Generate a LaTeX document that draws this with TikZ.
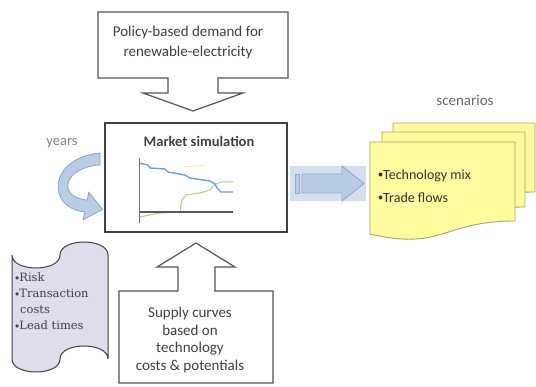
\documentclass[tikz,border=0pt]{standalone}
\usepackage{fontspec}
\setmainfont{Carlito}
\newfontfamily\serifbox{DejaVu Serif}
\definecolor{boxline}{HTML}{555555}
\definecolor{txt}{HTML}{404040}
\definecolor{yearsfill}{HTML}{B9CDE5}
\definecolor{yearsline}{HTML}{8AA5C8}
\definecolor{tapefill}{HTML}{E0DCEC}
\definecolor{docfill}{HTML}{FFFB9E}
\definecolor{docline}{HTML}{A8A462}
\definecolor{arrbg}{HTML}{D3E0F0}
\definecolor{arrfill}{HTML}{B8CCE4}
\definecolor{arrline}{HTML}{8EA9CD}
\definecolor{cblue}{HTML}{6D9ED6}
\definecolor{cgreen}{HTML}{A9D18E}
\definecolor{cyellow}{HTML}{FFE699}
\newcommand{\bul}{\raisebox{0.3ex}{\scalebox{0.7}{$\bullet$}}}
\tikzset{
  outline/.style={draw=boxline, line width=1.2pt, fill=white, line join=miter},
  label15/.style={text=txt, font=\fontsize{15}{20}\selectfont, align=center, inner sep=0pt},
  docpage/.style={draw=docline, line width=0.9pt, fill=docfill},
}
\begin{document}
\begin{tikzpicture}[x=1pt,y=-1pt]
\useasboundingbox (0,0) rectangle (536,387);
% top callout
\draw[outline] (98,12) -- (288,12) -- (288,78) -- (218,78) -- (218,93) -- (243,93) -- (193,111) -- (143,93) -- (168,93) -- (168,78) -- (98,78) -- cycle;
\node[label15] (policy) at (188,43) {Policy-based demand for\\renewable-electricity};
% bottom callout
\draw[outline] (119,383) -- (119,291) -- (178,291) -- (178,267) -- (157,267) -- (196,243) -- (235,267) -- (215,267) -- (215,291) -- (273,291) -- (273,383) -- cycle;
\node[label15, font=\fontsize{15}{17.7}\selectfont] (supply) at (190,340) {Supply curves\\based on\\technology\\costs \& potentials};
% market simulation box
\draw[outline, draw=black!75] (105,123) rectangle (287,232);
\node[label15, font=\bfseries\fontsize{14.5}{18}\selectfont] (market) at (199,141) {Market simulation};
% chart
\draw[cyellow, line width=0.8pt] (183,167) -- (206,165);
\draw[cgreen, line width=1pt] (139,217) -- (160,213) -- (180,212) -- (182,200) -- (186,195) -- (200,193) -- (210,190) -- (215,184) -- (222,182) -- (233,182);
\draw[cblue, line width=1.4pt] (139,163) -- (148,165) -- (150,168) -- (165,169) -- (168,172) -- (185,175) -- (190,178) -- (210,181) -- (215,184) -- (217,188) -- (221,192) -- (233,192);
\draw[black!65, line width=1.3pt] (139,212) -- (233,212);
\draw[black!55, line width=1pt] (139,158) -- (139,223);
% years arrow
\node[text=black!50, font=\fontsize{14.5}{17}\selectfont, inner sep=0pt] (years) at (62,143) {years};
\draw[fill=yearsfill, draw=yearsline, line width=0.8pt, line join=miter]
  (100,153) -- (100,165) .. controls (64,167) and (56,197) .. (87.2,200.1)
  -- (88.8,192.3) -- (102.7,209.4) -- (83.2,219.7) -- (84.8,211.9)
  .. controls (46,208) and (48,158) .. (100,153) -- cycle;
% punched tape
\draw[fill=tapefill, draw=black!75, line width=1pt]
  (12,255) .. controls (12,272.3) and (60,272.3) .. (60,255)
  .. controls (60,237.7) and (108,237.7) .. (108,255) -- (108,359)
  .. controls (108,341.7) and (60,341.7) .. (60,359)
  .. controls (60,376.3) and (12,376.3) .. (12,359) -- cycle;
\node[text=txt, font=\serifbox\fontsize{11.5}{16}\selectfont, align=left, anchor=north west, inner sep=0pt] (risks) at (15,273)
  {\bul Risk\\\bul Transaction\\\hspace{5pt}costs\\\bul Lead times};
% right arrow
\fill[arrbg] (290,166) rectangle (366,201);
\draw[fill=arrfill, draw=arrline, line width=0.9pt] (295,174) rectangle (299,193);
\draw[fill=arrfill, draw=arrline, line width=0.9pt, line join=miter]
  (302,174) -- (342,174) -- (342,166) -- (364,183.5) -- (342,201) -- (342,193) -- (302,193) -- cycle;
% scenarios
\node[label15, text=black!60] (scen) at (465,100) {scenarios};
\draw[docpage] (535,192) .. controls (464,192) and (464,218) .. (393,203) -- (393,123) -- (535,123) -- cycle;
\draw[docpage] (525,207) .. controls (453.5,207) and (453.5,235) .. (382,219) -- (382,132) -- (525,132) -- cycle;
\draw[docpage] (515,221) .. controls (442.5,221) and (442.5,251) .. (370,234) -- (370,142) -- (515,142) -- cycle;
\node[text=black!80, font=\fontsize{14}{22.5}\selectfont, align=left, anchor=west, inner sep=0pt] (mix) at (378,186)
  {\bul Technology mix\\\bul Trade flows};
\end{tikzpicture}
\end{document}
